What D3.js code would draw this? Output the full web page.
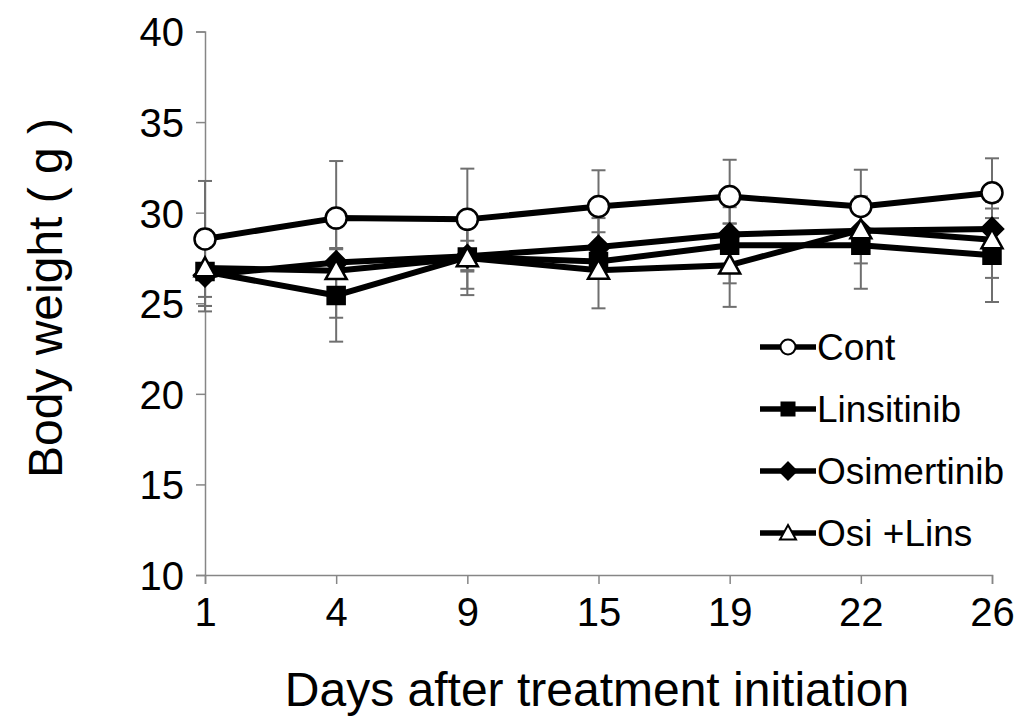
<!DOCTYPE html>
<html>
<head>
<meta charset="utf-8">
<script src="https://cdn.jsdelivr.net/npm/d3@7"></script>
<style>
  body { margin: 0; background: #fff; }
  svg text { font-family: "Liberation Sans", Arial, sans-serif; fill: #000; }
</style>
</head>
<body>
<svg id="chart" width="1019" height="717"></svg>
<script>
// Days after treatment initiation
const days = ['1', '4', '9', '15', '19', '22', '26'];
const yTicks = [10, 15, 20, 25, 30, 35, 40];

// Mean body weight (g) per group
const contMean = [28.55, 29.7, 29.63, 30.34, 30.89, 30.34, 31.1];
const linsMean = [26.75, 25.43, 27.55, 27.3, 28.2, 28.2, 27.65];
const osiMean = [26.55, 27.25, 27.6, 28.1, 28.8, 29.0, 29.1];
const comboMean = [26.95, 26.8, 27.5, 26.82, 27.1, 29.05, 28.5];

// Error bar half-lengths (SD)
const contErr = [3.2, 3.15, 2.8, 2.0, 2.03, 2.03, 1.9];
const linsErr = [1.9, 2.55, 2.1, 0.9, 2.1, 2.4, 2.58];
const osiErr = [2.0, 0.8, 0.85, 1.6, 0.6, 1.0, 0.6];
const comboErr = [2.1, 2.6, 1.7, 2.1, 2.3, 1.85, 2.1];

const seriesNames = ['Cont', 'Linsitinib', 'Osimertinib', 'Osi +Lins'];

const series = [
    { name: seriesNames[0], mean: contMean, err: contErr, shape: 'circle', fill: '#fff' },
    { name: seriesNames[1], mean: linsMean, err: linsErr, shape: 'square', fill: '#000' },
    { name: seriesNames[2], mean: osiMean, err: osiErr, shape: 'diamond', fill: '#000' },
    { name: seriesNames[3], mean: comboMean, err: comboErr, shape: 'triangle', fill: '#fff' }
];

const svg = d3.select('#chart');
const axisColor = '#868686';
const errColor = '#6f6f6f';

const x = d3.scalePoint().domain(days).range([205, 992]).padding(0);
const y = d3.scaleLinear().domain([10, 40]).range([575, 31.5]);

// marker path, centred on 0,0; s is overall size in px
function markerPath(shape, s) {
    const h = s / 2;
    if (shape === 'circle') {
        return `M${h},0A${h},${h} 0 1,1 ${-h},0A${h},${h} 0 1,1 ${h},0Z`;
    }
    if (shape === 'square') {
        return `M${-h},${-h}H${h}V${h}H${-h}Z`;
    }
    if (shape === 'diamond') {
        return `M0,${-h}L${h},0L0,${h}L${-h},0Z`;
    }
    // triangle
    return `M0,${-h}L${h},${h * 0.8}L${-h},${h * 0.8}Z`;
}

const markerSize = { circle: 21, square: 17, diamond: 22, triangle: 21 };

// axes
const yAxis = svg.append('g')
    .attr('transform', `translate(${x(days[0])},0)`)
    .call(d3.axisLeft(y).tickValues(yTicks).tickSize(9).tickPadding(12));

const xAxis = svg.append('g')
    .attr('transform', `translate(0,${y(10)})`)
    .call(d3.axisBottom(x).tickSize(9).tickPadding(11));

[yAxis, xAxis].forEach(a => {
    a.select('.domain').attr('stroke', axisColor).attr('stroke-width', 1.5);
    a.selectAll('.tick line').attr('stroke', axisColor).attr('stroke-width', 1.5);
    a.selectAll('.tick text')
        .style('font-size', '40px')
        .style('font-family', '"Liberation Sans", Arial, sans-serif')
        .attr('fill', '#000');
});
yAxis.selectAll('.tick text').attr('dy', '0.36em');
xAxis.selectAll('.tick text').attr('dy', '0.78em');

// error bars (drawn behind lines)
const errLayer = svg.append('g');
series.forEach(s => {
    days.forEach((d, i) => {
        const cx = x(d);
        const lo = y(s.mean[i] - s.err[i]);
        const hi = y(s.mean[i] + s.err[i]);
        errLayer.append('line')
            .attr('x1', cx).attr('x2', cx)
            .attr('y1', lo).attr('y2', hi)
            .attr('stroke', errColor).attr('stroke-width', 2);
        [lo, hi].forEach(yy => {
            errLayer.append('line')
                .attr('x1', cx - 7).attr('x2', cx + 7)
                .attr('y1', yy).attr('y2', yy)
                .attr('stroke', errColor).attr('stroke-width', 2);
        });
    });
});

// lines and markers
const line = d3.line()
    .x((v, i) => x(days[i]))
    .y(v => y(v));

series.forEach(s => {
    svg.append('path')
        .datum(s.mean)
        .attr('d', line)
        .attr('fill', 'none')
        .attr('stroke', '#000')
        .attr('stroke-width', 6)
        .attr('stroke-linejoin', 'round');
});

series.forEach(s => {
    svg.append('g').selectAll('path')
        .data(s.mean)
        .join('path')
        .attr('transform', (v, i) => `translate(${x(days[i])},${y(v)})`)
        .attr('d', markerPath(s.shape, markerSize[s.shape]))
        .attr('fill', s.fill)
        .attr('stroke', '#000')
        .attr('stroke-width', 2.5);
});

// legend
const legend = svg.append('g').attr('transform', 'translate(760,347)');
const legendSize = { circle: 15, square: 13, diamond: 17, triangle: 16 };
series.forEach((s, i) => {
    const g = legend.append('g').attr('transform', `translate(0,${i * 62})`);
    g.append('line')
        .attr('x1', 0).attr('x2', 56)
        .attr('y1', 0).attr('y2', 0)
        .attr('stroke', '#000').attr('stroke-width', 5.5);
    g.append('path')
        .attr('transform', 'translate(28,0)')
        .attr('d', markerPath(s.shape, legendSize[s.shape]))
        .attr('fill', s.fill)
        .attr('stroke', '#000')
        .attr('stroke-width', 2);
    g.append('text')
        .attr('x', 57)
        .attr('y', 0)
        .attr('dy', '0.36em')
        .style('font-size', '37px')
        .text(s.name);
});

// axis titles
svg.append('text')
    .attr('x', 597)
    .attr('y', 706)
    .attr('text-anchor', 'middle')
    .style('font-size', '48px')
    .text('Days after treatment initiation');

svg.append('text')
    .attr('transform', 'translate(62,298) rotate(-90)')
    .attr('text-anchor', 'middle')
    .style('font-size', '48px')
    .text('Body weight ( g )');
</script>
</body>
</html>
